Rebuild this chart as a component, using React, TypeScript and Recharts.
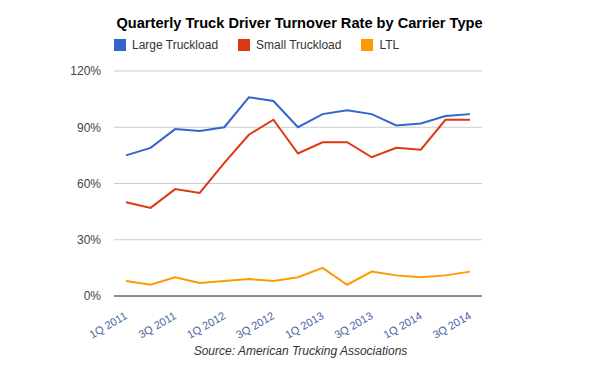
import React from "react";
import { LineChart, Line, XAxis, YAxis, CartesianGrid } from "recharts";

const QUARTERS = [
  "1Q 2011", "2Q 2011", "3Q 2011", "4Q 2011",
  "1Q 2012", "2Q 2012", "3Q 2012", "4Q 2012",
  "1Q 2013", "2Q 2013", "3Q 2013", "4Q 2013",
  "1Q 2014", "2Q 2014", "3Q 2014",
];
const LARGE_TL = [75, 79, 89, 88, 90, 106, 104, 90, 97, 99, 97, 91, 92, 96, 97];
const SMALL_TL = [50, 47, 57, 55, 71, 86, 94, 76, 82, 82, 74, 79, 78, 94, 94];
const LTL = [8, 6, 10, 7, 8, 9, 8, 10, 15, 6, 13, 11, 10, 11, 13];
const Y_TICKS = [0, 30, 60, 90, 120];

const SERIES = [
  { key: "large", name: "Large Truckload", color: "#3366cc" },
  { key: "small", name: "Small Truckload", color: "#dc3912" },
  { key: "ltl", name: "LTL", color: "#ff9900" },
];

const data = QUARTERS.map((q, i) => ({
  quarter: q,
  large: LARGE_TL[i],
  small: SMALL_TL[i],
  ltl: LTL[i],
}));

const FONT = "'Liberation Sans', Arial, sans-serif";

function QuarterTick(props: any) {
  const { x, y, payload } = props;
  return (
    <text
      x={x + 2}
      y={y + 14}
      textAnchor="end"
      transform={`rotate(-30, ${x + 2}, ${y + 14})`}
      fill="#4a62a4"
      fontSize={11}
      fontFamily={FONT}
    >
      {payload.value}
    </text>
  );
}

export default function App() {
  return (
    <div
      style={{
        position: "absolute",
        left: 0,
        top: 0,
        width: 595,
        height: 367,
        background: "#fff",
        fontFamily: FONT,
      }}
    >
      <div
        style={{
          position: "absolute",
          top: 15,
          left: 0,
          width: 595,
          textAlign: "center",
          fontSize: 14.6,
          fontWeight: 700,
          color: "#000",
          paddingLeft: 2,
        }}
      >
        Quarterly Truck Driver Turnover Rate by Carrier Type
      </div>

      {/* Legend */}
      <div
        style={{
          position: "absolute",
          top: 38,
          left: 114,
          display: "flex",
          alignItems: "center",
          fontSize: 12,
          color: "#333",
        }}
      >
        {SERIES.map((s) => (
          <div key={s.key} style={{ display: "flex", alignItems: "center", marginRight: 20 }}>
            <div style={{ width: 12, height: 12, background: s.color, marginRight: 6 }} />
            <span>{s.name}</span>
          </div>
        ))}
      </div>

      <LineChart
        width={595}
        height={367}
        data={data}
        margin={{ top: 71, right: 113, bottom: 0, left: 0 }}
        style={{ position: "absolute", left: 0, top: 0 }}
      >
        <CartesianGrid vertical={false} stroke="#cccccc" />
        <XAxis
          dataKey="quarter"
          interval={1}
          padding={{ left: 12, right: 12 }}
          tickLine={false}
          axisLine={{ stroke: "#333333" }}
          tick={<QuarterTick />}
          height={71}
        />
        <YAxis
          width={114}
          domain={[0, 120]}
          ticks={Y_TICKS}
          tickFormatter={(v: number) => `${v}%`}
          axisLine={false}
          tickLine={false}
          tickMargin={7}
          tick={{ fill: "#444444", fontSize: 12, fontFamily: FONT }}
        />
        {SERIES.map((s) => (
          <Line
            key={s.key}
            type="linear"
            dataKey={s.key}
            name={s.name}
            stroke={s.color}
            strokeWidth={2}
            dot={false}
            isAnimationActive={false}
          />
        ))}
      </LineChart>

      <div
        style={{
          position: "absolute",
          top: 344,
          left: 0,
          width: 595,
          textAlign: "center",
          fontSize: 12,
          fontStyle: "italic",
          color: "#333",
          paddingLeft: 3,
        }}
      >
        Source: American Trucking Associations
      </div>
    </div>
  );
}
